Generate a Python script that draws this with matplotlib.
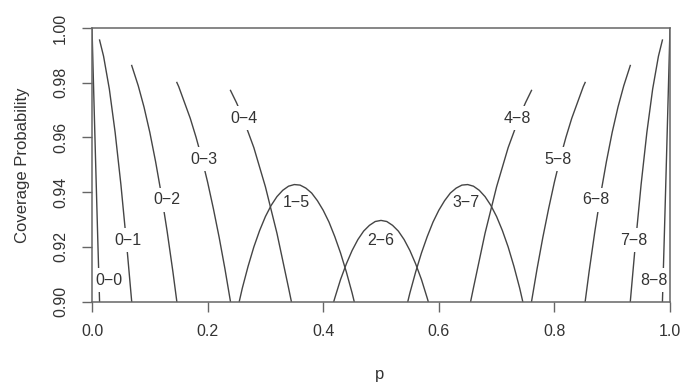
import matplotlib.pyplot as plt

plt.rcParams['font.family'] = ['Liberation Sans', 'DejaVu Sans']

# coverage curves, one per acceptance region
p_00 = [0.0, 0.002, 0.004, 0.006, 0.008, 0.010, 0.0131]
cov_00 = [1.0, 0.9841, 0.9685, 0.9530, 0.9378, 0.9227, 0.9000]

p_01 = [0.0131, 0.02, 0.03, 0.04, 0.05, 0.06, 0.0687]
cov_01 = [0.9956, 0.9897, 0.9777, 0.9619, 0.9428, 0.9208, 0.9000]

p_02 = [0.0687, 0.08, 0.09, 0.10, 0.11, 0.12, 0.13, 0.14, 0.1468]
cov_02 = [0.9863, 0.9789, 0.9711, 0.9619, 0.9512, 0.9392, 0.9257, 0.9109, 0.9000]

p_03 = [0.1468, 0.15, 0.17, 0.18, 0.19, 0.20, 0.21, 0.22, 0.23, 0.2396]
cov_03 = [0.9801, 0.9786, 0.9670, 0.9601, 0.9524, 0.9437, 0.9340, 0.9235, 0.9120, 0.9000]

p_04 = [0.2396, 0.25, 0.26, 0.28, 0.30, 0.32, 0.34, 0.345]
cov_04 = [0.9772, 0.9727, 0.9678, 0.9563, 0.9420, 0.9250, 0.9051, 0.9000]

p_15 = [0.2547, 0.26, 0.27, 0.28, 0.29, 0.30, 0.31, 0.32, 0.33, 0.34, 0.35,
        0.36, 0.37, 0.38, 0.39, 0.40, 0.41, 0.42, 0.43, 0.44, 0.45, 0.4537]
cov_15 = [0.9000, 0.9049, 0.9129, 0.9200, 0.9260, 0.9311, 0.9352, 0.9384, 0.9407, 0.9422, 0.9428,
          0.9426, 0.9415, 0.9397, 0.9369, 0.9334, 0.9291, 0.9238, 0.9178, 0.9109, 0.9032, 0.9000]

p_26 = [0.4182, 0.42, 0.43, 0.44, 0.45, 0.46, 0.47, 0.48, 0.49, 0.50,
        0.51, 0.52, 0.53, 0.54, 0.55, 0.56, 0.57, 0.58, 0.5818]
cov_26 = [0.9000, 0.9013, 0.9081, 0.9138, 0.9187, 0.9227, 0.9258, 0.9279, 0.9293, 0.9297,
          0.9293, 0.9279, 0.9258, 0.9227, 0.9187, 0.9138, 0.9081, 0.9013, 0.9000]

p_37 = [0.5463, 0.55, 0.56, 0.57, 0.58, 0.59, 0.60, 0.61, 0.62, 0.63, 0.64,
        0.65, 0.66, 0.67, 0.68, 0.69, 0.70, 0.71, 0.72, 0.73, 0.74, 0.7453]
cov_37 = [0.9000, 0.9032, 0.9109, 0.9178, 0.9238, 0.9291, 0.9334, 0.9369, 0.9397, 0.9415, 0.9426,
          0.9428, 0.9422, 0.9407, 0.9384, 0.9352, 0.9311, 0.9260, 0.9200, 0.9129, 0.9049, 0.9000]

p_48 = [0.655, 0.66, 0.68, 0.70, 0.72, 0.74, 0.75, 0.7604]
cov_48 = [0.9000, 0.9051, 0.9250, 0.9420, 0.9563, 0.9678, 0.9727, 0.9772]

p_58 = [0.7604, 0.77, 0.78, 0.79, 0.80, 0.81, 0.82, 0.83, 0.85, 0.8532]
cov_58 = [0.9000, 0.9120, 0.9235, 0.9340, 0.9437, 0.9524, 0.9601, 0.9670, 0.9786, 0.9801]

p_68 = [0.8532, 0.86, 0.87, 0.88, 0.89, 0.90, 0.91, 0.92, 0.9313]
cov_68 = [0.9000, 0.9109, 0.9257, 0.9392, 0.9512, 0.9619, 0.9711, 0.9789, 0.9863]

p_78 = [0.9313, 0.94, 0.95, 0.96, 0.97, 0.98, 0.9869]
cov_78 = [0.9000, 0.9208, 0.9428, 0.9619, 0.9777, 0.9897, 0.9956]

p_88 = [0.9869, 0.99, 0.992, 0.994, 0.996, 0.998, 1.0]
cov_88 = [0.9000, 0.9227, 0.9378, 0.9530, 0.9685, 0.9841, 1.0]

region_names = ["0-0", "0-1", "0-2", "0-3", "0-4", "1-5", "2-6",
                "3-7", "4-8", "5-8", "6-8", "7-8", "8-8"]

# where each region name sits on the chart
label_p = [0.0294, 0.0614, 0.1298, 0.1938, 0.263, 0.3529, 0.500,
           0.6471, 0.7353, 0.8062, 0.872, 0.9377, 0.9723]
label_cov = [0.9079, 0.9225, 0.9372, 0.9521, 0.9671, 0.9361, 0.9222,
             0.9364, 0.9671, 0.9521, 0.9372, 0.9225, 0.9079]

# these labels sit inside their arch, so they need no white patch
inside_arch = {"1-5", "2-6", "3-7"}

x_ticks = [0.0, 0.2, 0.4, 0.6, 0.8, 1.0]
y_ticks = [0.90, 0.92, 0.94, 0.96, 0.98, 1.00]

curves = [(p_00, cov_00), (p_01, cov_01), (p_02, cov_02), (p_03, cov_03),
          (p_04, cov_04), (p_15, cov_15), (p_26, cov_26), (p_37, cov_37),
          (p_48, cov_48), (p_58, cov_58), (p_68, cov_68), (p_78, cov_78),
          (p_88, cov_88)]

W, H = 694, 383
fig = plt.figure(figsize=(W / 100, H / 100), dpi=100)
ax = fig.add_axes([92 / W, 1 - 301.7 / H, 578 / W, 273.7 / H])

line_col = '#454545'
axis_col = '#666666'
text_col = '#333333'

for xs, ys in curves:
    ax.plot(xs, ys, color=line_col, lw=1.0, zorder=2)

for name, lp, lc in zip(region_names, label_p, label_cov):
    box = None if name in inside_arch else dict(facecolor='white', edgecolor='none', pad=3)
    ax.text(lp, lc, name.replace('-', '\u2212'), ha='center', va='center',
            fontsize=11.5, color=text_col, zorder=2.2, bbox=box)

ax.set_xlim(0, 1)
ax.set_ylim(0.9, 1.0)
ax.set_xticks(x_ticks)
ax.set_xticklabels([f"{v:.1f}" for v in x_ticks])
ax.set_yticks(y_ticks)
ax.set_yticklabels([f"{v:.2f}" for v in y_ticks])

for s in ax.spines.values():
    s.set_color(axis_col)
    s.set_linewidth(1.1)

ax.tick_params(axis='both', direction='out', length=7.2, width=1.0,
               color=axis_col, labelcolor=text_col, labelsize=11.5)
ax.tick_params(axis='x', pad=9)
ax.tick_params(axis='y', pad=10, labelrotation=90)
for lab in ax.get_yticklabels():
    lab.set_va('center')

fig.text(22.5 / W, 1 - 165 / H, 'Coverage Probability', rotation=90,
         ha='center', va='center', fontsize=12, color=text_col)
fig.text(380 / W, 1 - 374 / H, 'p', ha='center', va='center',
         fontsize=12, color=text_col)

fig.savefig('out.png', dpi=100)
